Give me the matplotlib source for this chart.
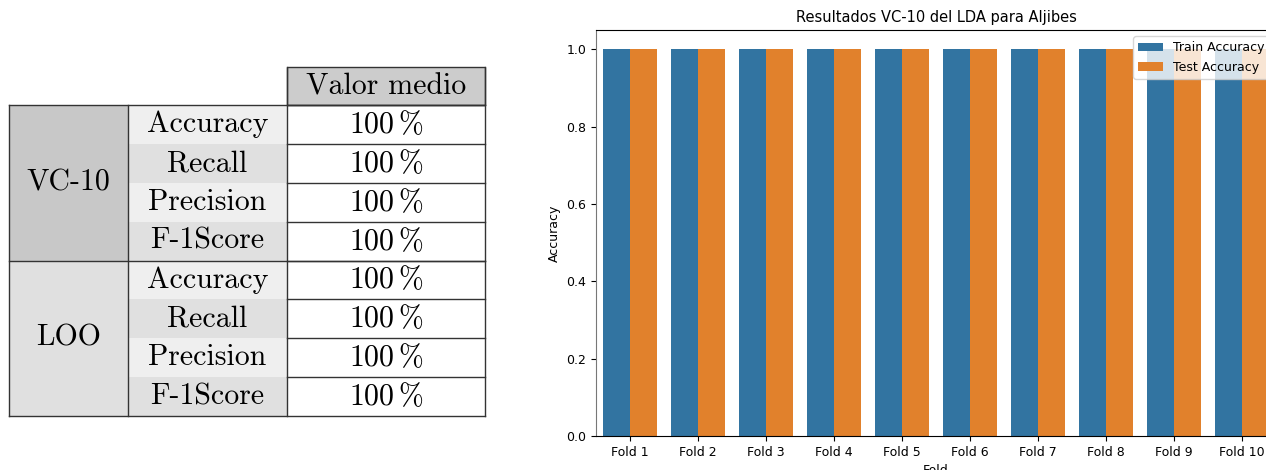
import numpy as np
import pandas as pd
import matplotlib
matplotlib.use("Agg")
import matplotlib.pyplot as plt
import seaborn as sns

plt.rcParams['mathtext.fontset'] = 'cm'

# datos de la tabla
grupos = ["VC-10", "LOO"]
metricas = ["Accuracy", "Recall", "Precision", "F-1Score"]
valores = [100, 100, 100, 100, 100, 100, 100, 100]
cabecera = "Valor medio"

# datos del grafico
folds = ["Fold 1", "Fold 2", "Fold 3", "Fold 4", "Fold 5",
         "Fold 6", "Fold 7", "Fold 8", "Fold 9", "Fold 10"]
train_acc = [1.0, 1.0, 1.0, 1.0, 1.0, 1.0, 1.0, 1.0, 1.0, 1.0]
test_acc = [1.0, 1.0, 1.0, 1.0, 1.0, 1.0, 1.0, 1.0, 1.0, 1.0]

fig = plt.figure(figsize=(12.66, 4.70), dpi=100)

# ---- tabla (coordenadas en pixeles) ----
tab = fig.add_axes([0, 0, 1, 1])
tab.set_xlim(0, 1266)
tab.set_ylim(470, 0)
tab.axis("off")

xs = [9, 128, 287, 485]          # bordes de columnas
y_head = 67
y0 = 105
h = (416 - 105) / 8
lc = "#333333"
fs = 21.5
serif = dict(family="cmr10", fontsize=fs, ha="center", va="center")

# cabecera
tab.add_patch(plt.Rectangle((xs[2], y_head), xs[3] - xs[2], y0 - y_head,
                            facecolor="#cccccc", edgecolor=lc, lw=1))
tab.text((xs[2] + xs[3]) / 2, (y_head + y0) / 2 + 1, cabecera, **serif)

col_grupo = ["#c8c8c8", "#e0e0e0"]
col_fila = ["#efefef", "#e0e0e0"]

for g, grupo in enumerate(grupos):
    gy = y0 + g * 4 * h
    tab.add_patch(plt.Rectangle((xs[0], gy), xs[1] - xs[0], 4 * h,
                                facecolor=col_grupo[g], edgecolor="none"))
    tab.text((xs[0] + xs[1]) / 2, gy + 2 * h, grupo, **serif)
    for m, met in enumerate(metricas):
        ry = gy + m * h
        tab.add_patch(plt.Rectangle((xs[1], ry), xs[2] - xs[1], h,
                                    facecolor=col_fila[m % 2], edgecolor="none"))
        tab.text((xs[1] + xs[2]) / 2, ry + h / 2, met, **serif)
        tab.text((xs[2] + xs[3]) / 2, ry + h / 2,
                 r"$\mathrm{%d\,\%%}$" % valores[g * 4 + m],
                 fontsize=fs, ha="center", va="center")
        tab.plot([xs[2], xs[3]], [ry, ry], color=lc, lw=1)
    tab.plot([xs[0], xs[3]], [gy, gy], color=lc, lw=1)

y_end = y0 + 8 * h
tab.plot([xs[0], xs[3]], [y_end, y_end], color=lc, lw=1)
for x in xs:
    top = y_head if x >= xs[2] else y0
    tab.plot([x, x], [top, y_end], color=lc, lw=1)

# ---- grafico de barras ----
df = pd.DataFrame({
    "Fold": folds * 2,
    "Accuracy": train_acc + test_acc,
    "Set": ["Train Accuracy"] * len(folds) + ["Test Accuracy"] * len(folds),
})

ax = fig.add_axes([596 / 1266, 34 / 470, 680 / 1266, 406 / 470])
sns.barplot(data=df, x="Fold", y="Accuracy", hue="Set", ax=ax)
ax.set_title("Resultados VC-10 del LDA para Aljibes", fontsize=10.5)
ax.set_xlabel("Fold", fontsize=9)
ax.set_ylabel("Accuracy", fontsize=9)
ax.tick_params(labelsize=9)
ax.spines["left"].set_color("#777777")
ax.legend(loc="upper right", fontsize=9)

fig.savefig("out.png", dpi=100)
